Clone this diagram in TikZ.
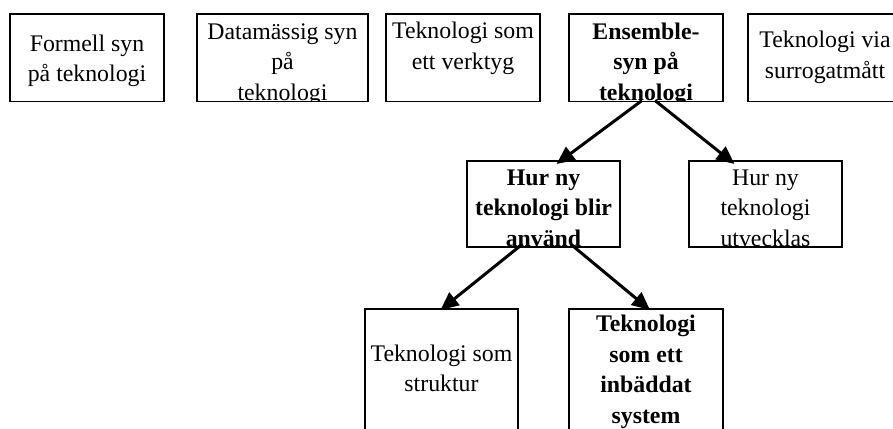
\documentclass[tikz,border=0pt]{standalone}
\usepackage{fontspec}
\setmainfont{Liberation Serif}
\usetikzlibrary{arrows.meta,calc}
\tikzset{
  box/.style={draw, line width=1.2pt, rectangle, inner sep=0pt, outer sep=0pt, anchor=north west},
  label/.style={align=center, inner sep=0pt, anchor=base, font=\fontsize{23.8}{30.5}\selectfont},
  boldlabel/.style={label, font=\fontsize{23.8}{30.5}\selectfont\bfseries},
  link/.style={line width=3pt, -{Triangle[length=18pt,width=16pt]}}
}
\begin{document}
\begin{tikzpicture}[x=1pt,y=-1pt]
\path[use as bounding box, clip] (0,0) rectangle (893,428);
\fill[white] (0,0) rectangle (893,428);

% top row
\node[box, minimum width=154pt, minimum height=87.5pt] (A) at (10,14) {};
\node[box, minimum width=171pt, minimum height=87.5pt] (B) at (197,14) {};
\node[box, minimum width=154pt, minimum height=87.5pt] (C) at (386,14) {};
\node[box, minimum width=154pt, minimum height=87.5pt] (D) at (569,14) {};
\node[box, minimum width=154pt, minimum height=87.5pt] (E) at (748,14) {};
% middle row
\node[box, minimum width=153pt, minimum height=86pt] (F) at (467,161) {};
\node[box, minimum width=153pt, minimum height=86pt] (G) at (689,161) {};
% bottom row
\node[box, minimum width=153pt, minimum height=140pt] (H) at (365,309) {};
\node[box, minimum width=154pt, minimum height=140pt] (I) at (569,309) {};

% texts, kept inside their boxes (anchored at the baseline of the last line)
\begin{scope}\clip (A.north west) rectangle (A.south east);
\node[label] (tA) at ($(A.north)+(0,67.5)$) {Formell syn\\på teknologi};\end{scope}
\begin{scope}\clip (B.north west) rectangle (B.south east);
\node[label] (tB) at ($(B.north)+(0,86)$) {Datamässig syn\\på\\teknologi};\end{scope}
\begin{scope}\clip (C.north west) rectangle (C.south east);
\node[label] (tC) at ($(C.north)+(0,55.5)$) {Teknologi som\\ett verktyg};\end{scope}
\begin{scope}\clip (D.north west) rectangle (D.south east);
\node[boldlabel] (tD) at ($(D.north)+(0,86)$) {Ensemble-\\syn på\\teknologi};\end{scope}
\begin{scope}\clip (E.north west) rectangle (E.south east);
\node[label] (tE) at ($(E.north)+(0,64)$) {Teknologi via\\surrogatmått};\end{scope}
\begin{scope}\clip (F.north west) rectangle (F.south east);
\node[boldlabel] (tF) at ($(F.north)+(0,85)$) {Hur ny\\teknologi blir\\använd};\end{scope}
\begin{scope}\clip (G.north west) rectangle (G.south east);
\node[label] (tG) at ($(G.north)+(0,85)$) {Hur ny\\teknologi\\utvecklas};\end{scope}
\begin{scope}\clip (H.north west) rectangle (H.south east);
\node[label] (tH) at ($(H.north)+(0,82.5)$) {Teknologi som\\struktur};\end{scope}
\begin{scope}\clip (I.north west) rectangle (I.south east);
\node[boldlabel] (tI) at ($(I.north)+(0,114)$) {Teknologi\\som ett\\inbäddat\\system};\end{scope}

% connectors
\draw[link] ([xshift=-4pt,yshift=1pt]D.south) -- ([xshift=13pt,yshift=-3pt]F.north);
\draw[link] ([xshift=9pt,yshift=1pt]D.south) -- ([xshift=-31pt,yshift=-3pt]G.north);
\draw[link] ([xshift=-21pt,yshift=3pt]F.south) -- ([xshift=-1pt,yshift=-1pt]H.north);
\draw[link] ([xshift=27pt,yshift=3pt]F.south) -- ([xshift=4pt,yshift=-1pt]I.north);
\end{tikzpicture}
\end{document}
